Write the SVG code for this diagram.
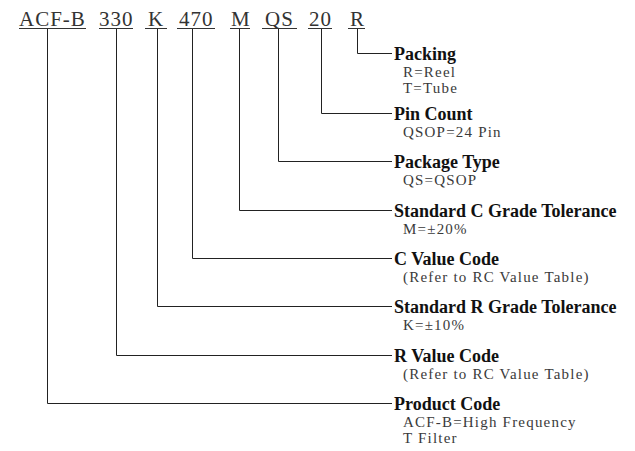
<svg xmlns="http://www.w3.org/2000/svg" width="635" height="451" viewBox="0 0 635 451">
<style>
.code{font-family:"Liberation Serif",serif;font-size:21px;fill:#333;letter-spacing:1px}
.ul{stroke:#333;stroke-width:1}
.h{font-family:"Liberation Serif",serif;font-size:18px;font-weight:bold;fill:#111}
.s{font-family:"Liberation Serif",serif;font-size:15px;fill:#3a3a3a;letter-spacing:1.2px}
.c{fill:none;stroke:#222;stroke-width:1}
</style>
<rect width="635" height="451" fill="#fff"/>
<g id="code">
<text class="code" x="19" y="26">ACF-B</text>
<text class="code" x="99" y="26">330</text>
<text class="code" x="148" y="26">K</text>
<text class="code" x="179" y="26">470</text>
<text class="code" x="231" y="26">M</text>
<text class="code" x="265" y="26">QS</text>
<text class="code" x="309" y="26">20</text>
<text class="code" x="350" y="26">R</text>
<path class="ul" d="M19 28.5H86M99 28.5H133M145 28.5H167M177 28.5H215M230 28.5H250M262 28.5H297M308 28.5H332M348 28.5H365"/>
</g>
<g id="connectors">
<path class="c" d="M357.5 29V53.5H392"/>
<path class="c" d="M321.5 29V113.5H392"/>
<path class="c" d="M278.5 29V161.5H392"/>
<path class="c" d="M239.5 29V210.5H392"/>
<path class="c" d="M192.5 29V258.5H392"/>
<path class="c" d="M157.5 29V306.5H392"/>
<path class="c" d="M116.5 29V355.5H392"/>
<path class="c" d="M47.5 29V403.5H392"/>
</g>
<g id="packing">
<text class="h" x="394" y="60">Packing</text>
<text class="s" x="403" y="77">R=Reel</text>
<text class="s" x="403" y="93">T=Tube</text>
</g>
<g id="pin-count">
<text class="h" x="394" y="120">Pin Count</text>
<text class="s" x="403" y="137">QSOP=24 Pin</text>
</g>
<g id="package-type">
<text class="h" x="394" y="168">Package Type</text>
<text class="s" x="403" y="185">QS=QSOP</text>
</g>
<g id="c-tolerance">
<text class="h" x="394" y="217">Standard C Grade Tolerance</text>
<text class="s" x="403" y="234">M=±20%</text>
</g>
<g id="c-value">
<text class="h" x="394" y="265">C Value Code</text>
<text class="s" x="403" y="282">(Refer to RC Value Table)</text>
</g>
<g id="r-tolerance">
<text class="h" x="394" y="313">Standard R Grade Tolerance</text>
<text class="s" x="403" y="330">K=±10%</text>
</g>
<g id="r-value">
<text class="h" x="394" y="362">R Value Code</text>
<text class="s" x="403" y="379">(Refer to RC Value Table)</text>
</g>
<g id="product-code">
<text class="h" x="394" y="410">Product Code</text>
<text class="s" x="403" y="427">ACF-B=High Frequency</text>
<text class="s" x="403" y="443">T Filter</text>
</g>
</svg>
